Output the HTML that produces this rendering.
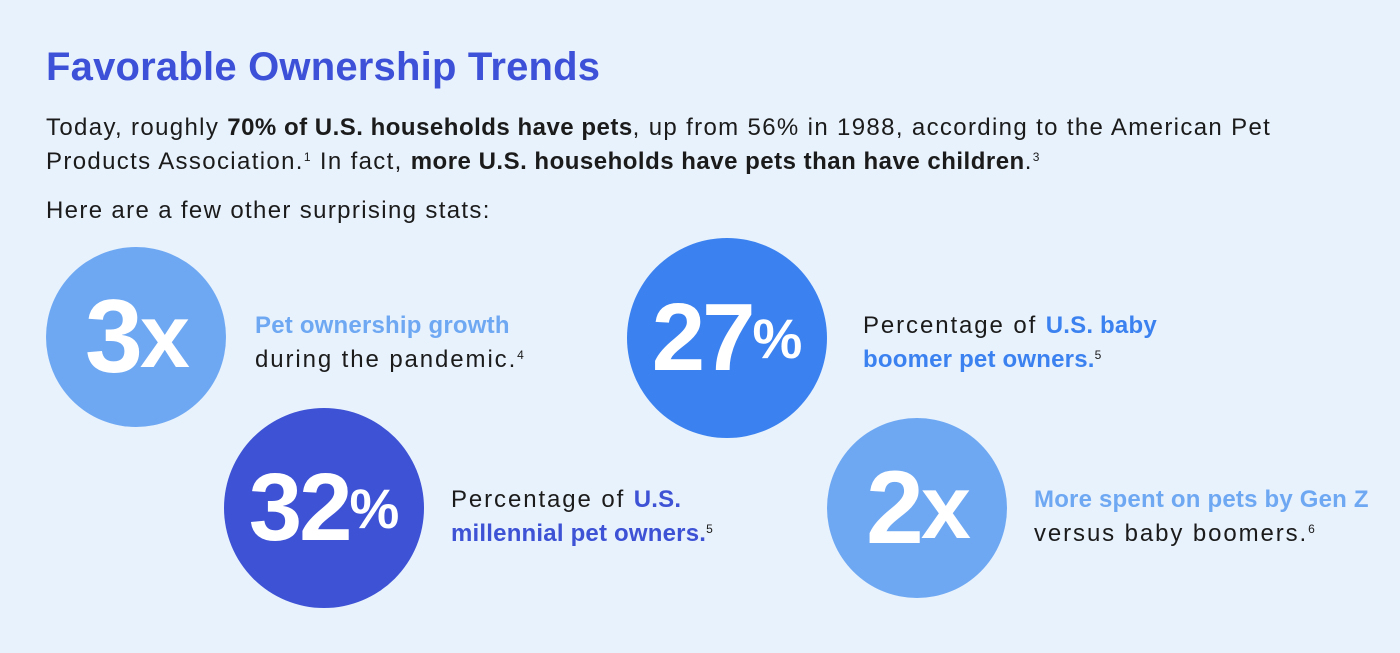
<!DOCTYPE html>
<html><head><meta charset="utf-8"><style>
html,body{margin:0;padding:0}
body{width:1400px;height:653px;background:#e8f2fc;position:relative;overflow:hidden;font-family:"Liberation Sans",sans-serif;color:#1b1b1b}
.a{position:absolute;white-space:nowrap}
h1{position:absolute;left:46px;top:45px;margin:0;font-size:40px;font-weight:bold;color:#3d50d8;letter-spacing:0.2px}
.p{font-size:24px;line-height:34px;letter-spacing:1.35px}
.p b{letter-spacing:0.5px}
sup{font-size:12px;vertical-align:8px;line-height:0}
.c{position:absolute;border-radius:50%;color:#fff;font-weight:bold;display:flex;align-items:center;justify-content:center;letter-spacing:-3px}
.t{font-size:24px;line-height:34px;letter-spacing:1.9px}
.t b{letter-spacing:0.2px}
</style></head><body>
<h1>Favorable Ownership Trends</h1>
<div class="a p" style="left:46px;top:111px">Today, roughly <b>70% of U.S. households have pets</b>, up from 56% in 1988, according to the American Pet<br>Products Association.<sup>1</sup> In fact, <b>more U.S. households have pets than have children</b>.<sup>3</sup></div>
<div class="a p" style="left:46px;top:194px">Here are a few other surprising stats:</div>

<div class="c" style="left:46px;top:247px;width:180px;height:180px;background:#6ea8f3;font-size:104px">3<span style="font-size:90px">x</span></div>
<div class="a t" style="left:255px;top:309px"><b style="color:#6ea8f3">Pet ownership growth</b><br>during the pandemic.<sup>4</sup></div>

<div class="c" style="left:627px;top:238px;width:200px;height:200px;background:#3b82f0;font-size:96px">27<span style="font-size:56px;letter-spacing:0">%</span></div>
<div class="a t" style="left:863px;top:309px">Percentage of <b style="color:#3b82f0">U.S. baby</b><br><b style="color:#3b82f0">boomer pet owners.</b><sup>5</sup></div>

<div class="c" style="left:224px;top:408px;width:200px;height:200px;background:#3d52d5;font-size:96px">32<span style="font-size:56px;letter-spacing:0">%</span></div>
<div class="a t" style="left:451px;top:483px">Percentage of <b style="color:#3d52d5">U.S.</b><br><b style="color:#3d52d5">millennial pet owners.</b><sup>5</sup></div>

<div class="c" style="left:827px;top:418px;width:180px;height:180px;background:#6ea8f3;font-size:104px">2<span style="font-size:90px">x</span></div>
<div class="a t" style="left:1034px;top:483px"><b style="color:#6ea8f3">More spent on pets by Gen Z</b><br>versus baby boomers.<sup>6</sup></div>
</body></html>
